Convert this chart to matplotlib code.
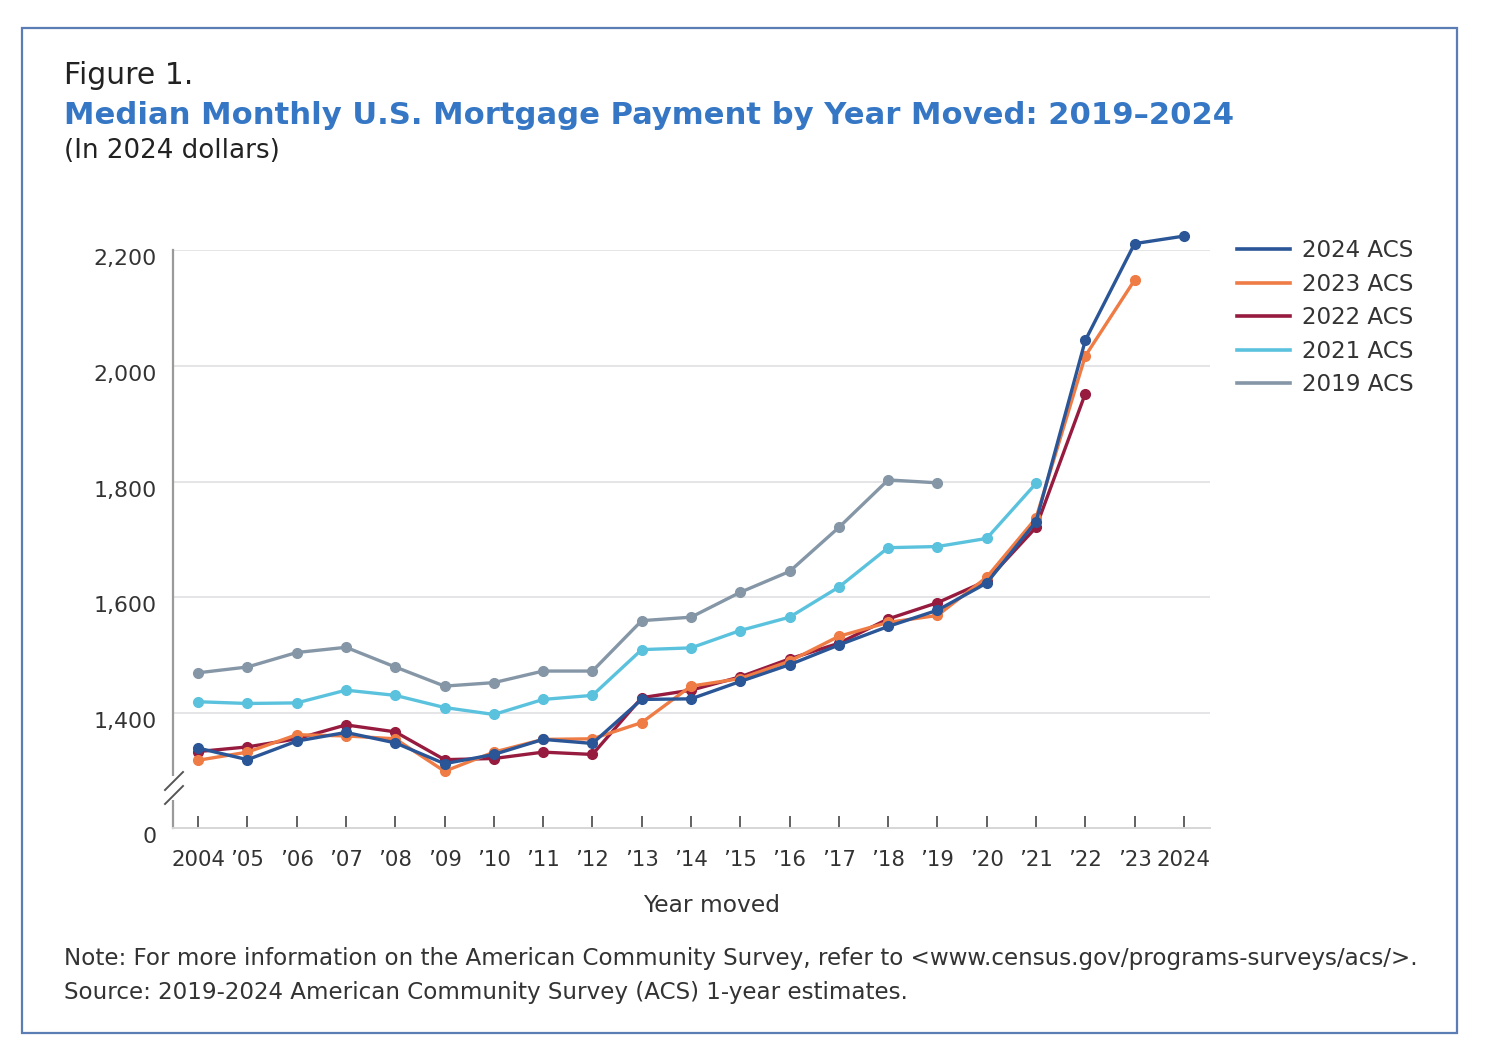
import matplotlib
matplotlib.use("Agg")
import matplotlib.pyplot as plt
import numpy as np
from matplotlib.patches import Rectangle
from matplotlib.lines import Line2D
import matplotlib.transforms as mtransforms

plt.rcParams['font.family'] = ['DejaVu Sans']

years = list(range(2004, 2025))
xtick_labels = ["2004", "\u201905", "\u201906", "\u201907", "\u201908", "\u201909", "\u201910",
                "\u201911", "\u201912", "\u201913", "\u201914", "\u201915", "\u201916", "\u201917",
                "\u201918", "\u201919", "\u201920", "\u201921", "\u201922", "\u201923", "2024"]

acs2024 = [1340, 1320, 1352, 1367, 1349, 1313, 1329, 1355, 1348, 1424, 1425, 1455, 1484,
           1518, 1550, 1578, 1625, 1731, 2044, 2211, 2224]
acs2023 = [1319, 1333, 1363, 1361, 1356, 1300, 1333, 1355, 1356, 1384, 1447, 1460, 1490,
           1533, 1557, 1569, 1635, 1737, 2017, 2148]
acs2022 = [1334, 1342, 1356, 1380, 1368, 1320, 1322, 1333, 1329, 1427, 1440, 1463, 1494,
           1521, 1563, 1591, 1629, 1721, 1952]
acs2021 = [1420, 1417, 1418, 1440, 1431, 1410, 1398, 1424, 1431, 1510, 1513, 1543, 1566,
           1618, 1686, 1688, 1702, 1797]
acs2019 = [1470, 1480, 1505, 1514, 1480, 1447, 1453, 1473, 1473, 1560, 1566, 1609, 1645,
           1721, 1803, 1798]

series_names = ["2024 ACS", "2023 ACS", "2022 ACS", "2021 ACS", "2019 ACS"]
series_values = [acs2024, acs2023, acs2022, acs2021, acs2019]
colors = ["#2a5596", "#ef7b45", "#961b3f", "#5bc2de", "#8596a7"]

ytick_values = [1400, 1600, 1800, 2000, 2200]
ytick_labels = ["1,400", "1,600", "1,800", "2,000", "2,200"]

W, H = 1486, 1054
fig = plt.figure(figsize=(W / 100, H / 100), dpi=100)

def fx(px):
    return px / W

def fy(py):
    return 1 - py / H

# border
fig.patches.append(Rectangle((fx(22), fy(1033)), fx(1457) - fx(22), fy(28) - fy(1033),
                             transform=fig.transFigure, fill=False, edgecolor="#5a7db5",
                             linewidth=1.6))

ax = fig.add_axes([fx(173), fy(828), fx(1210) - fx(173), fy(250) - fy(828)])
ybot = 1202
ax.set_ylim(ybot, 2200)
ax.set_xlim(2003.49, 2024.53)

for y in ytick_values:
    ax.axhline(y, color="#e3e3e6", linewidth=1.3, zorder=0)

# draw in reverse so 2024 is on top
for name, vals, c in reversed(list(zip(series_names, series_values, colors))):
    ax.plot(years[:len(vals)], vals, color=c, linewidth=2.4, marker="o", markersize=7,
            clip_on=False, label=name, solid_capstyle="round")

for s in ["top", "right"]:
    ax.spines[s].set_visible(False)
ax.spines["left"].set_color("#9a9a9a")
ax.spines["left"].set_linewidth(1.6)
ax.spines["bottom"].set_color("#d6d6d6")
ax.spines["bottom"].set_linewidth(1.4)

ax.set_xticks(years)
ax.set_xticklabels(xtick_labels, fontsize=15.3, color="#333333")
ax.tick_params(axis="x", direction="in", length=9, width=1.3, color="#555555", pad=16)
ax.set_yticks([])

# y labels (offset slightly below gridlines as in original)
off = mtransforms.ScaledTranslation(0, -0.09, fig.dpi_scale_trans)
btrans = mtransforms.blended_transform_factory(ax.transAxes, ax.transData) + off
for v, lab in zip(ytick_values, ytick_labels):
    ax.text(-0.016, v, lab, transform=btrans, ha="right", va="center", fontsize=15.8,
            color="#333333")
ax.text(-0.016, ybot, "0", transform=btrans, ha="right", va="center", fontsize=15.8,
        color="#333333")

# axis break marks
gap = Rectangle((fx(168), fy(800)), fx(178) - fx(168), fy(776) - fy(800),
                transform=fig.transFigure, facecolor="white", edgecolor="none", zorder=5)
fig.patches.append(gap)
for (x0, y0, x1, y1) in [(165, 790, 183, 772), (165, 804, 183, 786)]:
    fig.lines.append(Line2D([fx(x0), fx(x1)], [fy(y0), fy(y1)], transform=fig.transFigure,
                            color="#555555", linewidth=1.4, zorder=6))

# legend
handles = [Line2D([0], [0], color=c, linewidth=2.6) for c in colors]
fig.legend(handles, series_names, loc="upper left", bbox_to_anchor=(fx(1237), fy(239)),
           frameon=False, fontsize=16.6, handlelength=2.3, handletextpad=0.5,
           labelspacing=0.46, borderpad=0, borderaxespad=0, labelcolor="#333333")

# texts
fig.text(fx(64), fy(76), "Figure 1.", fontsize=21.5, color="#222222", va="center", ha="left")
fig.text(fx(64), fy(116), "Median Monthly U.S. Mortgage Payment by Year Moved: 2019\u20132024",
         fontsize=22.1, fontweight="bold", color="#3577c4", va="center", ha="left")
fig.text(fx(64), fy(151), "(In 2024 dollars)", fontsize=18.8, color="#222222", va="center",
         ha="left")
fig.text(fx(712), fy(906), "Year moved", fontsize=16.8, color="#333333", va="center",
         ha="center")
fig.text(fx(64), fy(959),
         "Note: For more information on the American Community Survey, refer to "
         "<www.census.gov/programs-surveys/acs/>.",
         fontsize=16.6, color="#333333", va="center", ha="left")
fig.text(fx(64), fy(993),
         "Source: 2019-2024 American Community Survey (ACS) 1-year estimates.",
         fontsize=16.6, color="#333333", va="center", ha="left")

fig.savefig("out.png", dpi=100, facecolor="white")
